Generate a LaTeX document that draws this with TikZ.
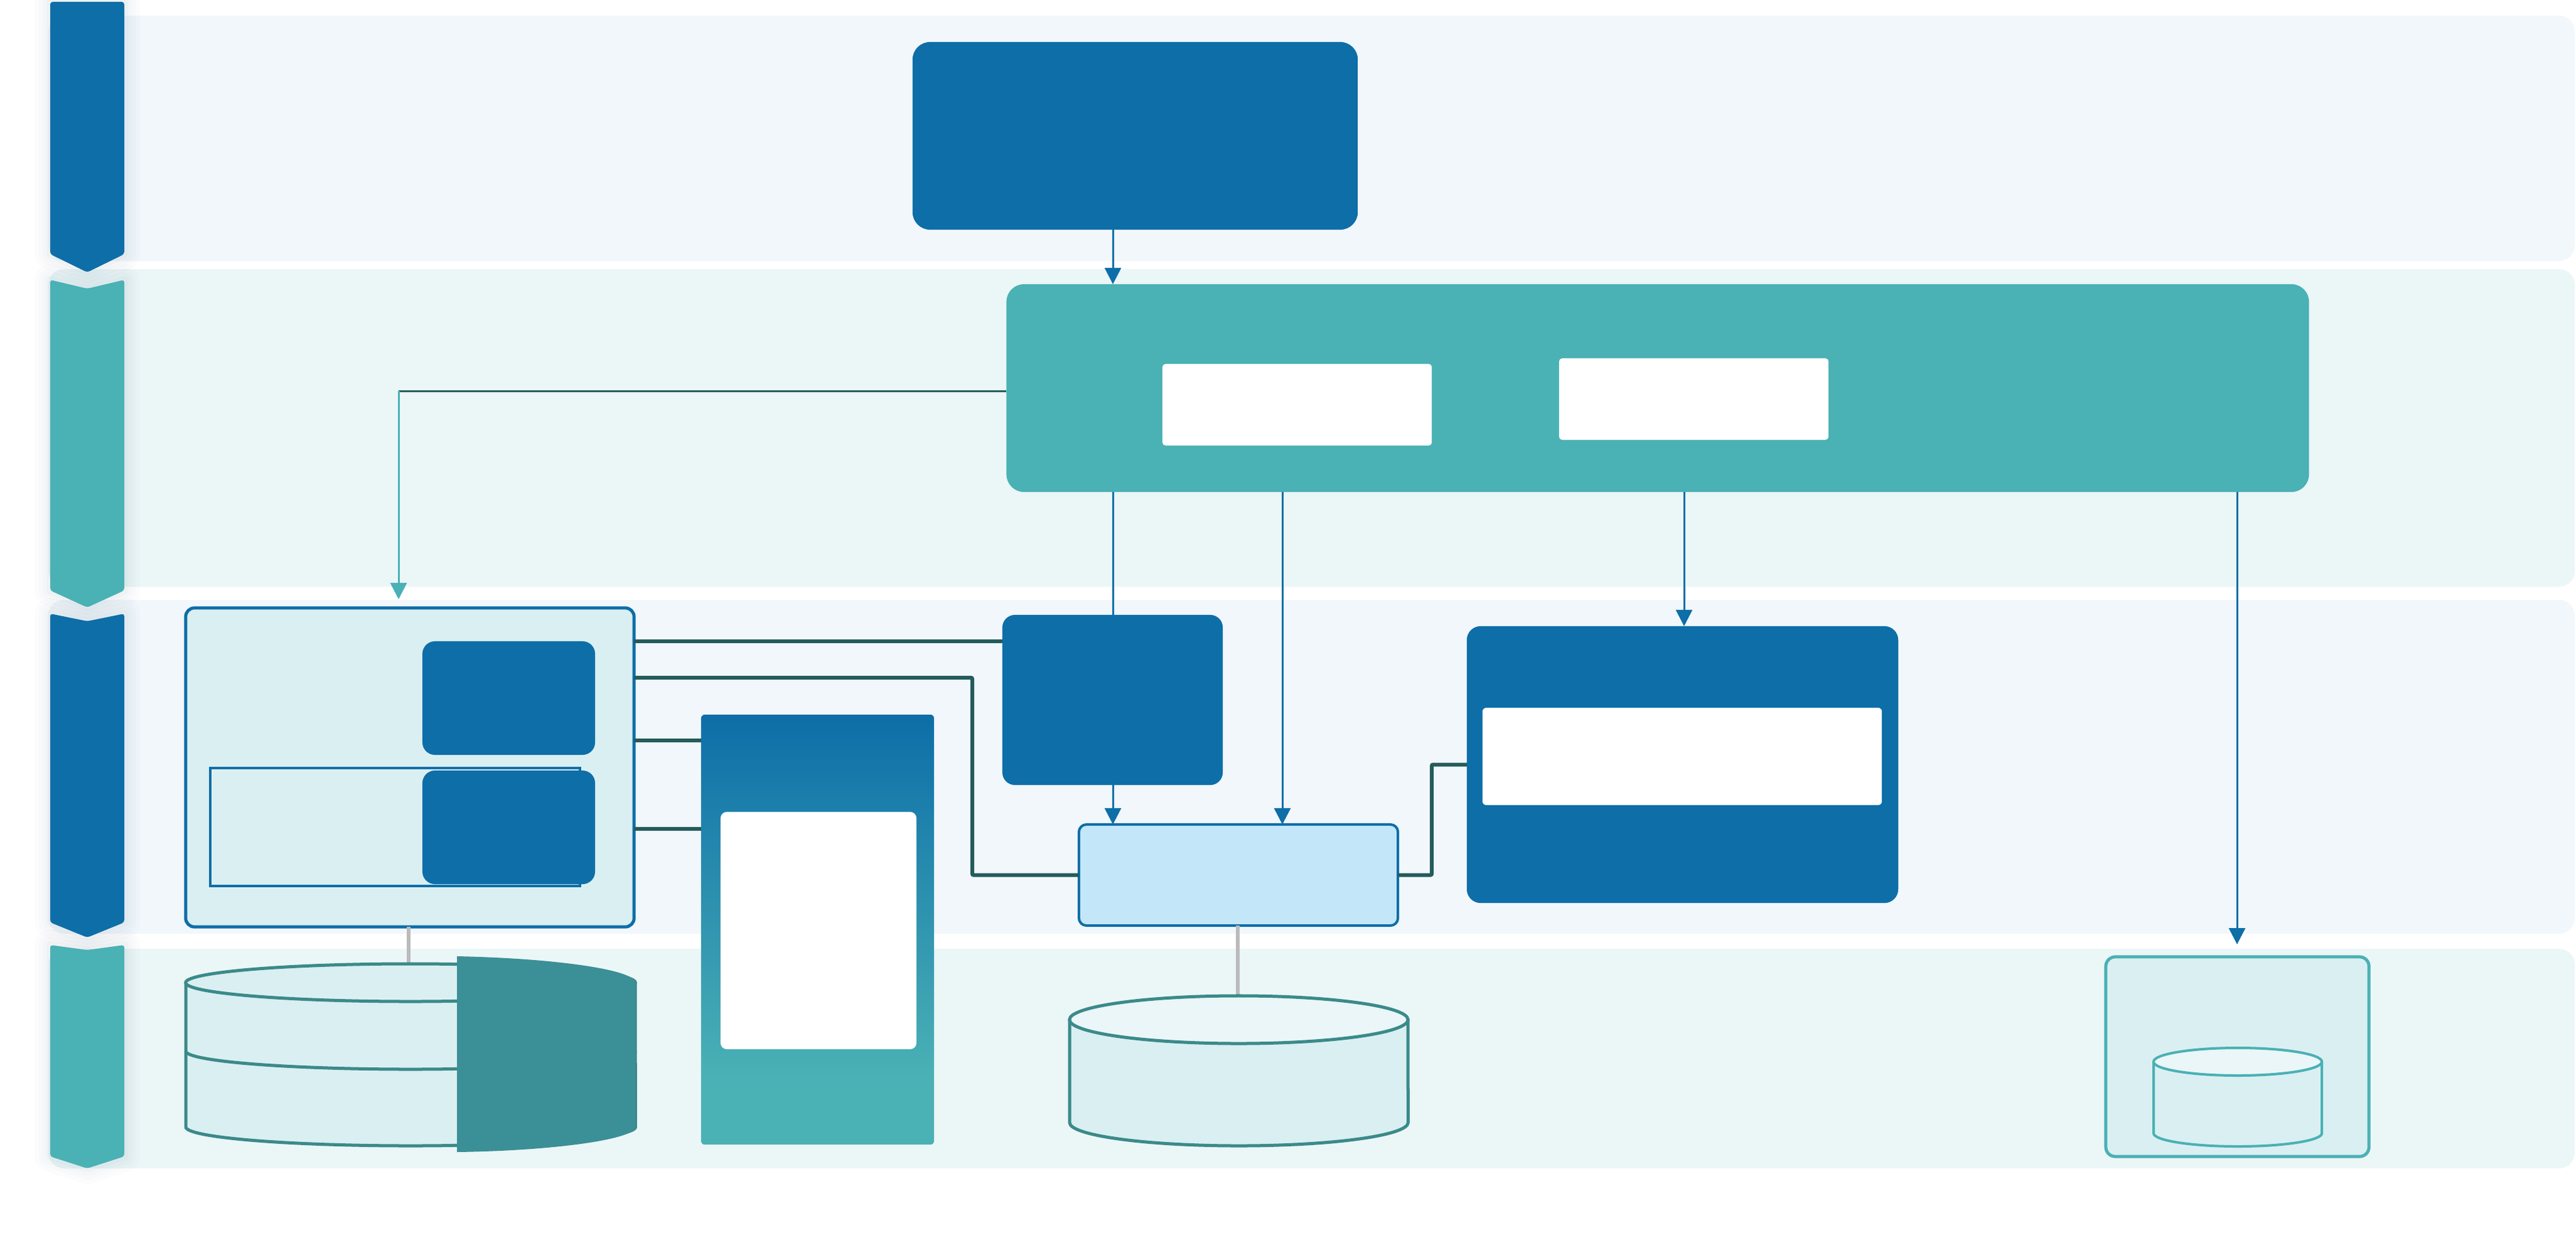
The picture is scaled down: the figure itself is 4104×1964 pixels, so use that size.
\documentclass[tikz,border=0pt]{standalone}
\usetikzlibrary{arrows.meta}
\definecolor{dblue}{HTML}{0D6EA8}
\definecolor{teal}{HTML}{4AB1B5}
\definecolor{laneA}{HTML}{F1F7FB}
\definecolor{laneB}{HTML}{EBF6F7}
\definecolor{lteal}{HTML}{DAEFF1}
\definecolor{ltop}{HTML}{EAF6F7}
\definecolor{wirec}{HTML}{245B5B}
\definecolor{cylc}{HTML}{3B8A8A}
\definecolor{ovc}{HTML}{3B8F96}
\definecolor{lblue}{HTML}{C3E6F9}
\definecolor{grayc}{HTML}{BBBBBB}
\definecolor{shadc}{HTML}{1F3F5A}
\pgfdeclareverticalshading{tallshade}{100bp}{color(0bp)=(teal); color(33bp)=(teal); color(75bp)=(dblue); color(100bp)=(dblue)}
\newcommand\lanebar[5]{%
  \foreach \w/\o in {0.5cm/0.012,0.36cm/0.014,0.24cm/0.016,0.12cm/0.018}{
    \draw[line width=\w, draw=shadc, opacity=\o, line join=round]
      (80,#2) -- (139,#3) -- (198,#2) -- (198,#4) -- (139,#5) -- (80,#4) -- cycle;}
  \fill[#1, rounded corners=0.04cm]
    (80,#2) -- (139,#3) -- (198,#2) -- (198,#4) -- (139,#5) -- (80,#4) -- cycle;
}
\begin{document}
\begin{tikzpicture}[x=0.01cm,y=-0.01cm,
  box/.style={rectangle, inner sep=0pt, outer sep=0pt},
  dbox/.style={box, fill=dblue},
  wbox/.style={box, fill=white, rounded corners=0.05cm},
  wire/.style={draw=wirec, line width=0.06cm, rounded corners=0.02cm},
  flow/.style={draw=dblue, line width=0.03cm, -{Triangle[length=0.26cm,width=0.26cm]}},
  tflow/.style={draw=teal, line width=0.03cm, -{Triangle[length=0.26cm,width=0.26cm]}},
  link/.style={draw=dblue, line width=0.03cm},
  tie/.style={draw=grayc, line width=0.06cm},
  cyl/.style={draw=cylc, line width=0.05cm},
  cyls/.style={draw=teal, line width=0.04cm}]
\fill[white] (0,0) rectangle (4104,1964);
\useasboundingbox (0,0) rectangle (4104,1964);
% lanes
\fill[laneA, rounded corners=0.25cm] (77,25) rectangle (4102,416);
\fill[laneB, rounded corners=0.25cm] (77,429) rectangle (4102,935);
\fill[laneA, rounded corners=0.25cm] (77,956) rectangle (4102,1488);
\fill[laneB, rounded corners=0.25cm] (77,1512) rectangle (4102,1862);
% lane bars
\lanebar{dblue}{3}{3}{405}{434}
\lanebar{teal}{446}{460}{941}{968}
\lanebar{dblue}{978}{990}{1470}{1494}
\lanebar{teal}{1506}{1514}{1843}{1862}
% helper coordinates
\coordinate (cA) at (1773,0);
\coordinate (cB) at (2043,0);
\coordinate (cC) at (2683,0);
\coordinate (cD) at (3564,0);
\coordinate (cE) at (635,0);
\coordinate (cF) at (1549,0);
\coordinate (cG) at (2281,0);
\coordinate (cH) at (651,0);
\coordinate (cI) at (1972,0);
\coordinate (r0) at (0,623);
\coordinate (r1) at (0,1022);
\coordinate (r2) at (0,1080);
\coordinate (r3) at (0,1180);
\coordinate (r4) at (0,1321);
\coordinate (tipE) at (635,955);
\coordinate (tipD) at (3564,1505);
\coordinate (cylLtop) at (651,1537);
\coordinate (cylMtop) at (1972,1588);
% nodes
\node[dbox, rounded corners=0.28cm, minimum width=7.09cm, minimum height=2.99cm] (top) at (1808.5,216.5) {};
\node[box, fill=teal, rounded corners=0.28cm, minimum width=20.74cm, minimum height=3.31cm] (svc) at (2641,618.5) {};
\node[wbox, minimum width=4.29cm, minimum height=1.30cm] (w1) at (2066.5,645) {};
\node[wbox, minimum width=4.29cm, minimum height=1.30cm] (w2) at (2698.5,636) {};
\node[box, fill=lteal, draw=dblue, line width=0.05cm, rounded corners=0.14cm, minimum width=7.14cm, minimum height=5.08cm] (cont) at (653,1223) {};
\node[dbox, rounded corners=0.2cm, minimum width=2.75cm, minimum height=1.81cm] (in1) at (810.5,1112.5) {};
\node[box, draw=dblue, line width=0.04cm, minimum width=5.89cm, minimum height=1.88cm] (inr) at (629.5,1318) {};
\node[dbox, rounded corners=0.2cm, minimum width=2.75cm, minimum height=1.81cm] (in2) at (810.5,1318.5) {};
\node[box, shade, shading=tallshade, rounded corners=0.06cm, minimum width=3.71cm, minimum height=6.85cm] (tall) at (1302.5,1481.5) {};
\node[wbox, rounded corners=0.1cm, minimum width=3.12cm, minimum height=3.78cm] (tallw) at (1304,1483) {};
\node[dbox, rounded corners=0.2cm, minimum width=3.51cm, minimum height=2.71cm] (mid) at (1772.5,1115.5) {};
\node[box, fill=lblue, draw=dblue, line width=0.04cm, rounded corners=0.12cm, minimum width=5.08cm, minimum height=1.61cm] (lb) at (1973,1394.5) {};
\node[dbox, rounded corners=0.22cm, minimum width=6.87cm, minimum height=4.41cm] (big) at (2680.5,1218.5) {};
\node[wbox, rounded corners=0.06cm, minimum width=6.36cm, minimum height=1.55cm] (bigw) at (2680,1205.5) {};
\node[box, fill=lteal, draw=teal, line width=0.05cm, rounded corners=0.15cm, minimum width=4.19cm, minimum height=3.18cm] (store) at (3564.5,1684) {};
% gray ties
\draw[tie] (cont.south -| cH) -- (cylLtop);
\draw[tie] (lb.south -| cI) -- (cylMtop);
% cylinder left
\fill[lteal] (296,1566) rectangle (1012,1796);
\fill[lteal] (654,1796) ellipse[x radius=3.58cm, y radius=0.30cm];
\draw[cyl] (296,1566) -- (296,1796) arc[start angle=180, end angle=360, x radius=3.58cm, y radius=0.30cm] -- (1012,1566);
\draw[cyl] (296,1675) arc[start angle=180, end angle=360, x radius=3.58cm, y radius=0.29cm];
\filldraw[cyl, fill=lteal] (654,1566) ellipse[x radius=3.58cm, y radius=0.30cm];
\fill[ovc] (728,1524) .. controls (880,1527) and (1012,1545) .. (1012,1566) -- (1012,1796) .. controls (1012,1816) and (880,1834) .. (728,1836) -- cycle;
% cylinder middle
\fill[lteal] (1704,1625) rectangle (2243,1789);
\fill[lteal] (1973.5,1789) ellipse[x radius=2.695cm, y radius=0.37cm];
\draw[cyl] (1704,1625) -- (1704,1789) arc[start angle=180, end angle=360, x radius=2.695cm, y radius=0.37cm] -- (2243,1625);
\filldraw[cyl, fill=ltop] (1973.5,1625) ellipse[x radius=2.695cm, y radius=0.38cm];
% cylinder small
\fill[lteal] (3431,1692) rectangle (3699,1806);
\fill[lteal] (3565,1806) ellipse[x radius=1.34cm, y radius=0.21cm];
\draw[cyls] (3431,1692) -- (3431,1806) arc[start angle=180, end angle=360, x radius=1.34cm, y radius=0.21cm] -- (3699,1692);
\filldraw[cyls, fill=ltop] (3565,1692) ellipse[x radius=1.34cm, y radius=0.22cm];
% thin connectors
\draw[flow] (top.south -| cA) -- (svc.north -| cA);
\draw[link] (svc.south -| cA) -- (mid.north -| cA);
\draw[flow] (mid.south -| cA) -- (lb.north -| cA);
\draw[flow] (svc.south -| cB) -- (lb.north -| cB);
\draw[flow] (svc.south -| cC) -- (big.north -| cC);
\draw[flow] (svc.south -| cD) -- (tipD);
\draw[draw=wirec, line width=0.03cm] (svc.west |- r0) -- (cE |- r0);
\draw[tflow] (cE |- r0) -- (tipE);
% thick wires
\draw[wire] (cont.east |- r1) -- (mid.west |- r1);
\draw[wire] (cont.east |- r2) -| (cF |- lb.west) -- (lb.west);
\draw[wire] (cont.east |- r3) -- (tall.west |- r3);
\draw[wire] (cont.east |- r4) -- (tall.west |- r4);
\draw[wire] (lb.east) -| (cG |- big.west) -- (big.west);
\end{tikzpicture}
\end{document}
